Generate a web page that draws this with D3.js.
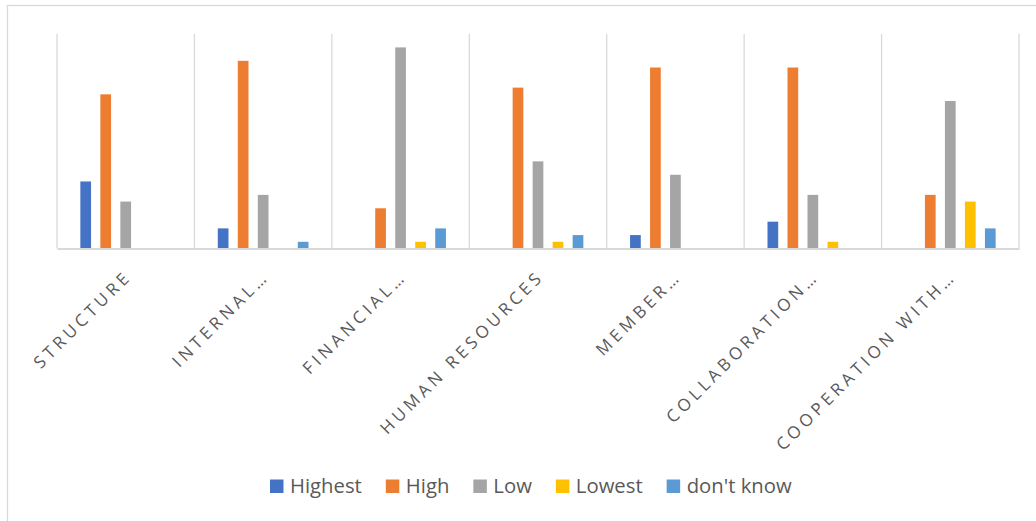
<!DOCTYPE html>
<html>
<head>
<meta charset="utf-8">
<script src="https://cdn.jsdelivr.net/npm/d3@7"></script>
<style>
  html, body { margin: 0; padding: 0; background: #ffffff; }
  svg { display: block; }
</style>
</head>
<body>
<svg id="chart" width="1036" height="521"></svg>
<script>
const categories = ["STRUCTURE", "INTERNAL…", "FINANCIAL…", "HUMAN RESOURCES", "MEMBER…", "COLLABORATION…", "COOPERATION WITH…"];
const seriesNames = ["Highest", "High", "Low", "Lowest", "don't know"];
const highest  = [10, 3, 0, 0, 2, 4, 0];
const high     = [23, 28, 6, 24, 27, 27, 8];
const low      = [7, 8, 30, 13, 11, 8, 22];
const lowest   = [0, 0, 1, 1, 0, 1, 7];
const dontKnow = [0, 1, 3, 2, 0, 0, 3];
const colors   = ["#4472C4", "#ED7D31", "#A5A5A5", "#FFC000", "#5B9BD5"];

const seriesValues = [highest, high, low, lowest, dontKnow];
const table = categories.map((c, i) => ({
  category: c,
  values: seriesNames.map((s, j) => ({ key: s, value: seriesValues[j][i], color: colors[j] }))
}));

const svg = d3.select("#chart");
const W = 1036, H = 521;
const plot = { left: 57, right: 1019, top: 34, bottom: 248.5 };
const grid = "#D9D9D9";

// outer chart border
svg.append("rect")
  .attr("x", 7.5).attr("y", 5.5)
  .attr("width", W + 10).attr("height", H + 10)
  .attr("fill", "none").attr("stroke", grid).attr("stroke-width", 1.3);

const x0 = d3.scaleBand().domain(categories).range([plot.left, plot.right]).padding(0);
const x1 = d3.scaleBand().domain(seriesNames).range([0, x0.bandwidth()])
  .paddingInner(0.465).paddingOuter(1.1675);
const y = d3.scaleLinear().domain([0, 32]).range([plot.bottom, plot.top]);

// vertical category gridlines
const bounds = categories.map(c => x0(c)).concat([plot.right]);
svg.append("g").selectAll("line").data(bounds).join("line")
  .attr("x1", d => d).attr("x2", d => d)
  .attr("y1", plot.top).attr("y2", plot.bottom)
  .attr("stroke", grid).attr("stroke-width", 1.3);

// bars
const groups = svg.append("g").selectAll("g").data(table).join("g")
  .attr("transform", d => `translate(${x0(d.category)},0)`);
groups.selectAll("rect").data(d => d.values.filter(v => v.value > 0)).join("rect")
  .attr("x", d => x1(d.key))
  .attr("width", x1.bandwidth())
  .attr("y", d => y(d.value))
  .attr("height", d => y(0) - y(d.value))
  .attr("fill", d => d.color);

// baseline axis
const xAxis = d3.axisBottom(x0).tickSize(0).tickSizeOuter(0).tickFormat("");
const axisG = svg.append("g").attr("transform", `translate(0,${plot.bottom})`).call(xAxis);
axisG.select(".domain").attr("stroke", grid).attr("stroke-width", 2.2);

// rotated category labels
svg.append("g").selectAll("text").data(categories).join("text")
  .attr("transform", d => `translate(${x0(d) + x0.bandwidth() / 2 + 7},277.5) rotate(-45)`)
  .attr("text-anchor", "end")
  .attr("font-family", "'Open Sans', sans-serif")
  .attr("font-size", 17)
  .attr("letter-spacing", 4)
  .attr("fill", "#595959")
  .text(d => d);

// legend
const legend = svg.append("g");
let lx = 270;
seriesNames.forEach((s, j) => {
  const g = legend.append("g");
  g.append("rect").attr("x", lx).attr("y", 479.5).attr("width", 13.5).attr("height", 13.5).attr("fill", colors[j]);
  const t = g.append("text").attr("x", lx + 20).attr("y", 492.5)
    .attr("font-family", "'Open Sans', sans-serif").attr("font-size", 20.3)
    .attr("fill", "#595959").text(s);
  lx = lx + 20 + t.node().getComputedTextLength() + 24;
});
</script>
</body>
</html>
